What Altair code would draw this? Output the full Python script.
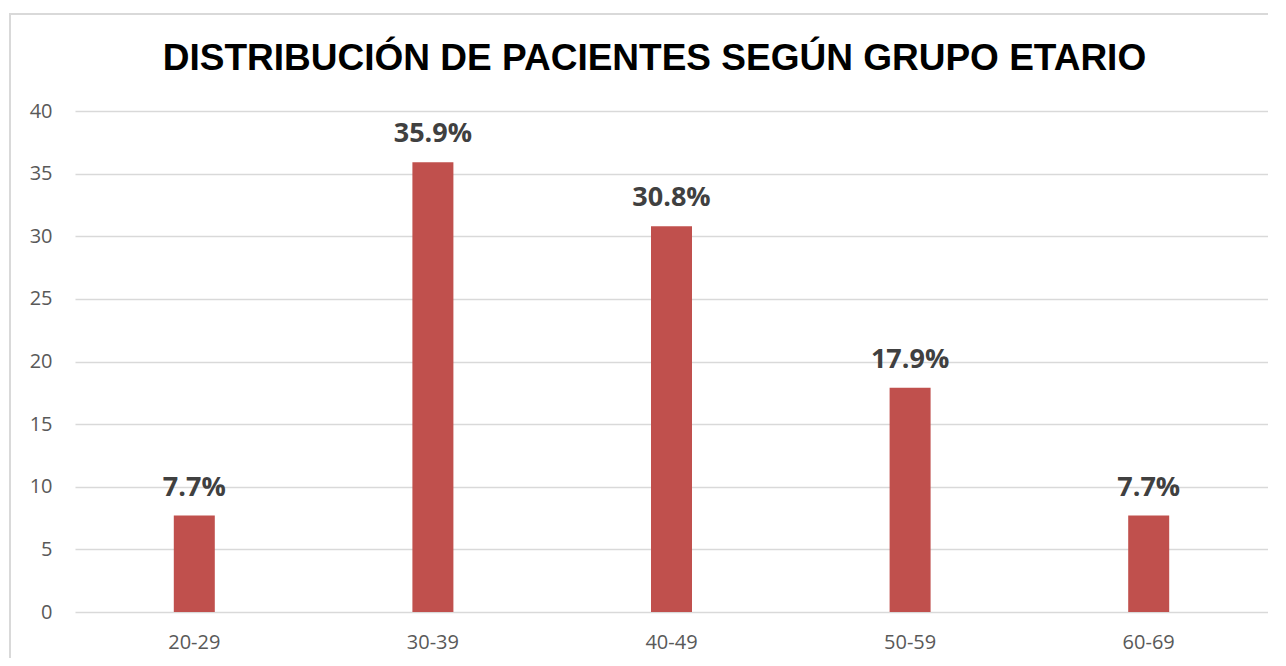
import altair as alt
import pandas as pd

grupos = ["20-29", "30-39", "40-49", "50-59", "60-69"]
valores = [7.7, 35.9, 30.8, 17.9, 7.7]
etiquetas = ["7.7%", "35.9%", "30.8%", "17.9%", "7.7%"]

df = pd.DataFrame({"grupo": grupos, "valor": valores, "etiqueta": etiquetas})

W, H = 1193, 501
LEFT, TOP = 67, 103

x = alt.X("grupo:N", sort=grupos, title=None,
          scale=alt.Scale(paddingInner=0.0, paddingOuter=0.0),
          axis=alt.Axis(labelAngle=0, labelFont="Open Sans", labelFontSize=20,
                        labelColor="#595959", labelPadding=20, ticks=False,
                        domain=False, labelBaseline="top"))
y = alt.Y("valor:Q", title=None,
          scale=alt.Scale(domain=[0, 40], nice=False),
          axis=alt.Axis(values=[0, 5, 10, 15, 20, 25, 30, 35, 40],
                        labelFont="Open Sans", labelFontSize=20,
                        labelColor="#595959", labelPadding=23, ticks=False,
                        domain=False, grid=True, gridColor="#d9d9d9",
                        gridWidth=1.3))

border = alt.Chart(df).mark_rect(fill=None, stroke="#d9d9d9", strokeWidth=1.5).encode(
    x=alt.value(-65), x2=alt.value(W + 40), y=alt.value(-97), y2=alt.value(H + 80)
)

bars = alt.Chart(df).mark_bar(color="#C0504D", size=41).encode(x=x, y=y)

labels = alt.Chart(df).mark_text(
    font="Open Sans", fontSize=27, fontWeight="bold", color="#404040",
    baseline="alphabetic", dy=-20
).encode(x=x, y=y, text="etiqueta:N")

chart = alt.layer(border, bars, labels).properties(
    width=W, height=H,
    title=alt.TitleParams(
        "DISTRIBUCIÓN DE PACIENTES SEGÚN GRUPO ETARIO",
        font="Liberation Sans", fontSize=37, fontWeight="bold", color="#000000",
        anchor="middle", baseline="alphabetic", offset=-94, dx=-17
    ),
    autosize=alt.AutoSizeParams(type="none"),
    padding={"left": LEFT, "top": TOP, "right": 0, "bottom": 46},
).configure_view(stroke=None)

chart.save("out.html", embed_options={"renderer": "svg", "actions": False})
